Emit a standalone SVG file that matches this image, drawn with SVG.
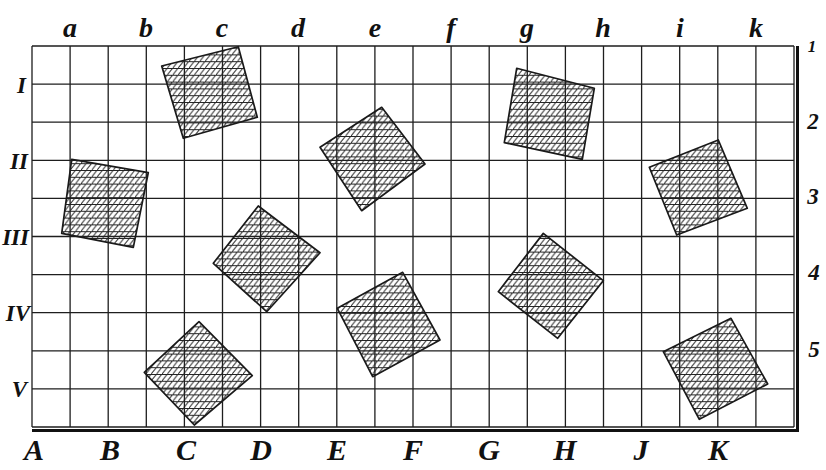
<svg xmlns="http://www.w3.org/2000/svg" width="826" height="470" viewBox="0 0 826 470">
<defs>
<pattern id="hatch" patternUnits="userSpaceOnUse" width="5.4" height="6.8">
<path d="M-1 0.5H7" stroke="#222" stroke-width="1"/>
<path d="M-1.08 8.16L6.48 -1.36" stroke="#222" stroke-width="1"/>
</pattern>
<style>
.grid{fill:none;stroke:#1e1e1e;stroke-width:1.3}
.thick{fill:none;stroke:#111;stroke-width:3}
.sq{fill:url(#hatch);stroke:#1a1a1a;stroke-width:1.7;stroke-linejoin:round}
.top{font-family:"Liberation Serif",serif;font-style:italic;font-weight:bold;font-size:28px;fill:#111;text-anchor:middle}
.left{font-family:"Liberation Serif",serif;font-style:italic;font-weight:bold;font-size:23px;fill:#111;text-anchor:end}
.right{font-family:"Liberation Serif",serif;font-style:italic;font-weight:bold;font-size:23px;fill:#111;text-anchor:middle}
.bot{font-family:"Liberation Serif",serif;font-style:italic;font-weight:bold;font-size:30px;fill:#111;text-anchor:middle}
</style>
</defs>
<rect width="826" height="470" fill="#ffffff"/>
<g id="grid">
<path class="grid" d="M32 46V427M70.1 46V427M108.2 46V427M146.3 46V427M184.4 46V427M222.5 46V427M260.6 46V427M298.7 46V427M336.8 46V427M374.9 46V427M413 46V427M451.1 46V427M489.2 46V427M527.3 46V427M565.4 46V427M603.5 46V427M641.6 46V427M679.7 46V427M717.8 46V427M755.9 46V427M794 46V427"/>
<path class="grid" d="M32 46H794M32 84.1H794M32 122.2H794M32 160.3H794M32 198.4H794M32 236.5H794M32 274.6H794M32 312.7H794M32 350.8H794M32 388.9H794M32 427H794"/>
<path class="thick" d="M797.5 46V430.5H32"/>
</g>
<g id="squares">
<polygon id="sq1" class="sq" points="161.7,66 238.3,46.7 257.3,117.3 183.3,138.3"/>
<polygon id="sq2" class="sq" points="71.7,159.3 148.3,172.7 133.3,247.3 61.7,233.3"/>
<polygon id="sq3" class="sq" points="381.7,107.3 425,164 361.7,210.7 320,147.3"/>
<polygon id="sq4" class="sq" points="516.7,68.3 594.3,88.3 582.3,159.3 504.3,142.7"/>
<polygon id="sq5" class="sq" points="718.3,140 747.3,208.3 676.7,235 649.3,167.3"/>
<polygon id="sq6" class="sq" points="258.3,206 320,252.7 266.7,311.7 213.3,263.3"/>
<polygon id="sq7" class="sq" points="199,321.7 252.3,375.7 194.3,425 144.3,372.3"/>
<polygon id="sq8" class="sq" points="402.7,272.3 440,340 372.7,376.7 337.3,308.3"/>
<polygon id="sq9" class="sq" points="543.3,233.3 603.3,280.7 557.7,338.3 498.3,291.7"/>
<polygon id="sq10" class="sq" points="731,318.3 767.7,384 699.3,419.3 663.3,351.7"/>
</g>
<g id="labels-top">
<text class="top" x="70" y="37">a</text>
<text class="top" x="146" y="37">b</text>
<text class="top" x="222" y="37">c</text>
<text class="top" x="298" y="37">d</text>
<text class="top" x="375" y="37">e</text>
<text class="top" x="451" y="37">f</text>
<text class="top" x="527" y="37">g</text>
<text class="top" x="603" y="37">h</text>
<text class="top" x="680" y="37">i</text>
<text class="top" x="756" y="37">k</text>
</g>
<g id="labels-left">
<text class="left" x="26" y="93">I</text>
<text class="left" x="28" y="169">II</text>
<text class="left" x="29" y="245">III</text>
<text class="left" x="30" y="321">IV</text>
<text class="left" x="27" y="397">V</text>
</g>
<g id="labels-right">
<text class="right" x="812" y="52" style="font-size:17px">1</text>
<text class="right" x="813" y="129">2</text>
<text class="right" x="813" y="204">3</text>
<text class="right" x="814" y="280">4</text>
<text class="right" x="814" y="357">5</text>
</g>
<g id="labels-bottom">
<text class="bot" x="34" y="460">A</text>
<text class="bot" x="110" y="460">B</text>
<text class="bot" x="186" y="460">C</text>
<text class="bot" x="261" y="460">D</text>
<text class="bot" x="337" y="460">E</text>
<text class="bot" x="413" y="460">F</text>
<text class="bot" x="489" y="460">G</text>
<text class="bot" x="565" y="460">H</text>
<text class="bot" x="641" y="460">J</text>
<text class="bot" x="718" y="460">K</text>
</g>
</svg>
